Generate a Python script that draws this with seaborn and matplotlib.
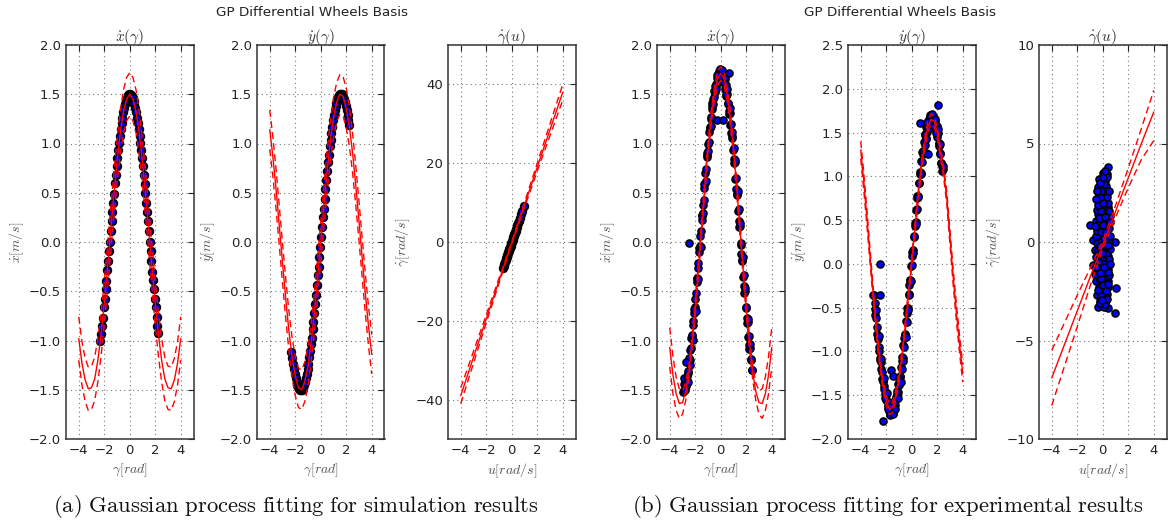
import matplotlib
matplotlib.use("Agg")
import matplotlib.pyplot as plt
import seaborn as sns
import numpy as np
import pandas as pd

# ---------------- data ----------------
grid = [-4.0, -3.75, -3.5, -3.25, -3.0, -2.75, -2.5, -2.25, -2.0, -1.75, -1.5, -1.25, -1.0, -0.75, -0.5, -0.25,
        0.0, 0.25, 0.5, 0.75, 1.0, 1.25, 1.5, 1.75, 2.0, 2.25, 2.5, 2.75, 3.0, 3.25, 3.5, 3.75, 4.0]

# simulation: GP means
A1_mean = [-0.98, -1.23, -1.40, -1.49, -1.48, -1.39, -1.20, -0.94, -0.62, -0.27, 0.11, 0.47, 0.81, 1.10, 1.32, 1.45,
           1.50, 1.45, 1.32, 1.10, 0.81, 0.47, 0.11, -0.27, -0.62, -0.94, -1.20, -1.39, -1.48, -1.49, -1.40, -1.23, -0.98]
A1_band = 0.22
A2_mean = [1.14, 0.86, 0.53, 0.16, -0.21, -0.57, -0.90, -1.17, -1.36, -1.48, -1.50, -1.42, -1.26, -1.02, -0.72, -0.37,
           0.0, 0.37, 0.72, 1.02, 1.26, 1.42, 1.50, 1.48, 1.36, 1.17, 0.90, 0.57, 0.21, -0.16, -0.53, -0.86, -1.14]
A2_band = 0.20
A3_u = [-4.0, -2.0, 0.0, 2.0, 4.0]
A3_mean = [-39.0, -19.5, -0.2, 19.0, 38.0]
A3_upper = [-37.0, -18.5, 0.1, 20.0, 40.0]
A3_lower = [-41.0, -20.5, -0.5, 18.0, 36.0]

# simulation samples
gamma_sim = [-2.30, -2.24, -2.17, -2.11, -2.03, -1.97, -1.90, -1.84, -1.76, -1.70, -1.63, -1.57, -1.50, -1.43,
             -1.37, -1.30, -1.24, -1.16, -1.10, -1.03, -0.97, -0.90, -0.83, -0.77, -0.70, -0.63, -0.57, -0.50,
             -0.43, -0.37, -0.30, -0.23, -0.17, -0.10, -0.03, 0.03, 0.10, 0.17, 0.23, 0.30, 0.37, 0.43, 0.50,
             0.57, 0.63, 0.70, 0.77, 0.83, 0.90, 0.97, 1.03, 1.10, 1.17, 1.23, 1.30, 1.37, 1.43, 1.50, 1.57,
             1.63, 1.70, 1.77, 1.83, 1.90, 1.97, 2.03, 2.10, 2.17, 2.23]
xdot_sim = [-1.00, -0.93, -0.85, -0.77, -0.66, -0.58, -0.48, -0.40, -0.28, -0.19, -0.09, 0.00, 0.11, 0.21,
            0.30, 0.40, 0.49, 0.60, 0.68, 0.77, 0.85, 0.93, 1.01, 1.08, 1.15, 1.21, 1.26, 1.32,
            1.36, 1.40, 1.43, 1.46, 1.48, 1.49, 1.50, 1.50, 1.49, 1.48, 1.46, 1.43, 1.40, 1.36, 1.32,
            1.26, 1.21, 1.15, 1.08, 1.01, 0.93, 0.85, 0.77, 0.68, 0.59, 0.50, 0.40, 0.30, 0.21, 0.11, 0.00,
            -0.09, -0.19, -0.30, -0.39, -0.48, -0.58, -0.66, -0.76, -0.85, -0.92]
ydot_sim = [-1.12, -1.18, -1.24, -1.29, -1.34, -1.38, -1.42, -1.45, -1.47, -1.49, -1.50, -1.50, -1.50, -1.49,
            -1.47, -1.45, -1.42, -1.38, -1.34, -1.29, -1.24, -1.17, -1.11, -1.04, -0.97, -0.88, -0.81, -0.72,
            -0.63, -0.54, -0.44, -0.34, -0.25, -0.15, -0.05, 0.05, 0.15, 0.25, 0.34, 0.44, 0.54, 0.63, 0.72,
            0.81, 0.88, 0.97, 1.04, 1.11, 1.17, 1.24, 1.29, 1.34, 1.38, 1.41, 1.45, 1.47, 1.49, 1.50, 1.50,
            1.50, 1.49, 1.47, 1.45, 1.42, 1.38, 1.34, 1.29, 1.24, 1.19]
u_sim = [-0.68, -0.62, -0.57, -0.52, -0.47, -0.42, -0.38, -0.34, -0.30, -0.26, -0.22, -0.18, -0.15, -0.12,
         -0.09, -0.06, -0.03, 0.00, 0.03, 0.06, 0.09, 0.12, 0.15, 0.18, 0.21, 0.24, 0.27, 0.30, 0.34, 0.38,
         0.43, 0.48, 0.55, 0.62, 0.72, 0.80, 0.93]
gdot_sim = [-6.7, -6.1, -5.6, -5.1, -4.6, -4.1, -3.7, -3.3, -2.9, -2.5, -2.2, -1.8, -1.5, -1.2,
            -0.9, -0.6, -0.3, 0.0, 0.3, 0.6, 0.9, 1.2, 1.5, 1.8, 2.1, 2.4, 2.6, 2.9, 3.3, 3.7,
            4.2, 4.7, 5.4, 6.1, 7.1, 7.8, 9.1]

# experiment: GP means
B1_mean = [-1.07, -1.35, -1.54, -1.64, -1.63, -1.52, -1.32, -1.02, -0.67, -0.27, 0.15, 0.56, 0.94, 1.26, 1.505, 1.66,
           1.71, 1.66, 1.505, 1.26, 0.94, 0.56, 0.15, -0.27, -0.67, -1.02, -1.32, -1.52, -1.63, -1.64, -1.54, -1.35, -1.07]
B1_band = [0.20, 0.19, 0.17, 0.15, 0.12, 0.09, 0.07, 0.07, 0.07, 0.07, 0.07, 0.07, 0.07, 0.07, 0.07, 0.07,
           0.07, 0.07, 0.07, 0.07, 0.07, 0.07, 0.07, 0.07, 0.07, 0.07, 0.07, 0.09, 0.12, 0.15, 0.17, 0.19, 0.20]
B2_mean = [1.30, 0.92, 0.50, 0.05, -0.38, -0.78, -1.12, -1.38, -1.56, -1.66, -1.64, -1.50, -1.30, -1.02, -0.70, -0.34,
           0.03, 0.40, 0.77, 1.10, 1.36, 1.56, 1.65, 1.63, 1.50, 1.27, 1.05, 0.75, 0.30, -0.15, -0.55, -0.92, -1.25]
B2_band = [0.10, 0.10, 0.09, 0.08, 0.07, 0.06, 0.06, 0.06, 0.06, 0.06, 0.06, 0.06, 0.06, 0.06, 0.06, 0.06,
           0.06, 0.06, 0.06, 0.06, 0.06, 0.06, 0.06, 0.06, 0.06, 0.06, 0.06, 0.07, 0.08, 0.09, 0.10, 0.10, 0.10]
B3_u = [-4.0, -3.0, -2.0, -1.0, 0.0, 1.0, 2.0, 3.0, 4.0]
B3_mean = [-6.9, -5.2, -3.5, -1.8, -0.15, 1.55, 3.25, 4.95, 6.6]
B3_upper = [-5.5, -4.1, -2.7, -1.35, 0.05, 1.85, 3.75, 5.7, 7.7]
B3_lower = [-8.3, -6.3, -4.3, -2.25, -0.35, 1.25, 2.75, 4.15, 5.15]

# experiment samples (run 1)
gamma_exp = [-2.95, -2.90, -2.85, -2.80, -2.75, -2.70, -2.65, -2.60, -2.55, -2.50, -2.45, -2.40, -2.35, -2.30,
             -2.25, -2.20, -2.15, -2.10, -2.05, -2.00, -1.95, -1.90, -1.85, -1.80, -1.75, -1.70, -1.65, -1.60,
             -1.55, -1.50, -1.45, -1.40, -1.35, -1.30, -1.25, -1.20, -1.15, -1.10, -1.05, -1.00, -0.95, -0.90,
             -0.85, -0.80, -0.75, -0.70, -0.65, -0.60, -0.55, -0.50, -0.45, -0.40, -0.35, -0.30, -0.25, -0.20,
             -0.15, -0.10, -0.05, 0.00, 0.05, 0.10, 0.15, 0.20, 0.25, 0.30, 0.35, 0.40, 0.45, 0.50, 0.55, 0.60,
             0.65, 0.70, 0.75, 0.80, 0.85, 0.90, 0.95, 1.00, 1.05, 1.10, 1.15, 1.20, 1.25, 1.30, 1.35, 1.40,
             1.45, 1.50, 1.55, 1.60, 1.65, 1.70, 1.75, 1.80, 1.85, 1.90, 1.95, 2.00, 2.05, 2.10, 2.15, 2.20,
             2.25, 2.30, 2.35, 2.40, 2.45]
xdot_exp = [-1.52, -1.44, -1.50, -1.41, -1.46, -1.38, -1.40, -1.33, -1.31, -1.22, -1.20, -1.10, -1.08, -0.97,
            -0.95, -0.84, -0.80, -0.72, -0.66, -0.58, -0.52, -0.41, -0.37, -0.26, -0.21, -0.10, -0.04, 0.06,
            0.11, 0.22, 0.27, 0.38, 0.43, 0.55, 0.60, 0.70, 0.74, 0.86, 0.88, 0.99, 1.02, 1.12,
            1.16, 1.25, 1.27, 1.35, 1.38, 1.45, 1.47, 1.53, 1.52, 1.60, 1.58, 1.66, 1.62, 1.71,
            1.65, 1.74, 1.68, 1.75, 1.69, 1.73, 1.64, 1.70, 1.61, 1.65, 1.55, 1.59, 1.48, 1.50, 1.40, 1.41,
            1.30, 1.31, 1.19, 1.20, 1.06, 1.08, 0.93, 0.95, 0.80, 0.81, 0.64, 0.65, 0.48, 0.49, 0.31, 0.33,
            0.15, 0.16, -0.03, -0.01, -0.19, -0.18, -0.36, -0.34, -0.52, -0.50, -0.67, -0.66, -0.82, -0.81, -0.96, -0.95,
            -1.09, -1.08, -1.20, -1.19, -1.30]
ydot_exp = [-0.36, -0.45, -0.58, -0.62, -0.72, -0.80, -0.86, -0.95, -1.00, -1.08, -1.12, -1.20, -1.24, -1.31,
            -1.34, -1.40, -1.43, -1.49, -1.50, -1.56, -1.57, -1.62, -1.63, -1.68, -1.66, -1.71, -1.67, -1.72,
            -1.65, -1.70, -1.62, -1.66, -1.57, -1.61, -1.52, -1.54, -1.45, -1.46, -1.37, -1.38, -1.28, -1.29,
            -1.18, -1.20, -1.06, -1.08, -0.93, -0.95, -0.80, -0.81, -0.65, -0.66, -0.50, -0.50, -0.34, -0.35,
            -0.18, -0.18, -0.02, -0.01, 0.14, 0.16, 0.31, 0.32, 0.47, 0.48, 0.62, 0.63, 0.78, 0.78, 0.92, 0.92,
            1.05, 1.04, 1.18, 1.16, 1.29, 1.27, 1.39, 1.36, 1.48, 1.44, 1.56, 1.51, 1.62, 1.56, 1.66, 1.59,
            1.68, 1.61, 1.69, 1.62, 1.69, 1.60, 1.66, 1.57, 1.63, 1.52, 1.57, 1.45, 1.49, 1.37, 1.38, 1.27,
            1.26, 1.15, 1.12, 1.06, 1.08]
# experiment samples (run 2)
gamma_exp2 = [-2.88, -2.78, -2.68, -2.58, -2.48, -2.38, -2.28, -2.18, -2.08, -1.98, -1.88, -1.78, -1.68, -1.58,
              -1.48, -1.38, -1.28, -1.18, -1.08, -0.98, -0.88, -0.78, -0.68, -0.58, -0.48, -0.38, -0.28, -0.18,
              -0.08, 0.02, 0.12, 0.22, 0.32, 0.42, 0.52, 0.62, 0.72, 0.82, 0.92, 1.02, 1.12, 1.22, 1.32, 1.42,
              1.52, 1.62, 1.72, 1.82, 1.92, 2.02, 2.12, 2.22, 2.32, 2.42]
xdot_exp2 = [-1.38, -1.50, -1.36, -1.42, -1.18, -1.25, -0.94, -0.99, -0.68, -0.70, -0.38, -0.38, -0.06, -0.05,
             0.26, 0.29, 0.59, 0.62, 0.90, 0.92, 1.17, 1.18, 1.41, 1.40, 1.58, 1.55, 1.70, 1.63,
             1.76, 1.66, 1.75, 1.62, 1.68, 1.50, 1.55, 1.33, 1.36, 1.11, 1.12, 0.84, 0.83, 0.54, 0.52, 0.21,
             0.19, -0.12, -0.15, -0.45, -0.47, -0.77, -0.78, -1.05, -1.04, -1.30]
ydot_exp2 = [-0.52, -0.53, -0.84, -0.82, -1.10, -1.09, -1.34, -1.30, -1.53, -1.47, -1.66, -1.58, -1.73, -1.61,
             -1.72, -1.58, -1.66, -1.49, -1.53, -1.32, -1.35, -1.11, -1.11, -0.85, -0.84, -0.56, -0.53, -0.24,
             -0.20, 0.09, 0.13, 0.43, 0.45, 0.75, 0.76, 1.03, 1.03, 1.28, 1.26, 1.47, 1.43, 1.62, 1.55, 1.70,
             1.60, 1.71, 1.58, 1.66, 1.50, 1.54, 1.35, 1.37, 1.15, 1.12]
# a few scattered outliers
B1_out_g = [-2.48, -0.28, 0.20, 0.67, -2.70]
B1_out_v = [-0.01, 1.24, 1.24, 1.72, -1.22]
B2_out_g = [-2.52, -3.05, -2.52, -2.27, -1.61, -1.45, 0.65, 2.03, 1.12, 1.30]
B2_out_v = [0.00, -0.35, -0.35, -1.80, -1.21, -1.28, 1.61, 1.82, 1.27, 1.25]

u_exp = [0.94, -0.37, 0.41, 0.12, -0.20, 0.25, 0.05, -0.42, 0.00, 0.35, -0.15, 1.07, -0.30, 0.20, -0.05, 0.45,
         -0.50, -0.18, 0.10, 0.38, -0.35, 0.00, 0.25, -0.60, 0.50, -0.45, -0.12, 0.15, 0.42, -0.76, -0.28, 0.30,
         0.05, -0.50, -0.20, 0.10, 0.40, -0.62, -0.35, 0.00, 0.28, 0.55, -0.78, 0.94, -0.45, -0.10, 0.20, 0.48,
         -0.30, 0.05, 0.35, -0.55, -0.40, -0.10, 0.20, 0.50, -1.00, -0.50, -0.20, 0.10, 0.38, -0.35, 0.00, 0.30,
         0.55, -0.49, -0.25, 0.10, 0.40, -0.05, -0.40, -0.10, 0.20, 0.45, -0.30, 0.00, 0.30, -0.35, -0.05, 0.25,
         -0.10, 0.20, -0.30, 0.05, 0.35, 0.41, -0.10, 0.15, -0.22, 0.32,
         -0.25, 0.15, 0.30, -0.35, 0.05, 0.28, -0.10, 0.18, -0.25, 0.45, -0.40, 0.10, 0.25, -0.30, -0.05, 0.40,
         -0.20, 0.10, -0.45, -0.15, 0.25, 0.45, 0.00, -0.30, 0.20, -0.10, 0.30, 0.50, -0.40, 0.00, 0.30, -0.20,
         0.15, -0.15, 0.10, -0.20, 0.30, 0.00, 0.15, -0.05, 0.40, -0.55, 0.50, -0.60, 0.55, 0.60, 0.55, -0.55,
         0.50, -0.45]
gdot_exp = [-3.60, -3.28, -3.36, -3.30, -3.00, -2.95, -3.05, -2.70, -2.60, -2.65, -2.70, -2.35, -2.30, -2.35, -2.40, -2.30,
            -2.00, -1.95, -2.05, -1.98, -1.70, -1.65, -1.72, -1.60, -1.70, -1.35, -1.38, -1.30, -1.35, -1.17, -1.05, -1.10,
            -1.00, -0.75, -0.70, -0.78, -0.72, -0.40, -0.45, -0.38, -0.42, -0.35, 0.10, 0.00, -0.05, 0.02, -0.03, 0.05,
            0.35, 0.30, 0.38, 0.30, 0.70, 0.72, 0.65, 0.70, 0.86, 1.05, 1.00, 1.08, 1.02, 1.40, 1.35, 1.42,
            1.30, 1.62, 1.75, 1.72, 1.78, 1.85, 2.10, 2.05, 2.12, 2.00, 2.45, 2.40, 2.50, 2.80, 2.75, 2.85,
            3.15, 3.10, 3.20, 3.50, 3.45, 3.80, 0.55, -0.55, 2.25, -2.10,
            -3.10, -3.15, -2.90, -2.45, -2.20, -2.50, -1.85, -1.50, -1.55, -1.50, -1.00, -1.25, -0.60, -0.60, -0.55, -0.15,
            -0.20, 0.15, 0.55, 0.50, 0.50, 0.95, 0.85, 1.20, 1.25, 1.55, 1.60, 1.55, 1.90, 2.00, 2.30, 2.30,
            2.65, 2.60, 2.95, 3.00, 3.30, 3.30, 3.60, -2.95, -2.15, -1.25, -0.85, 0.80, 0.30, 1.00, -1.10, 2.20,
            2.60, 2.60]

titles = [r"$\dot{x}(\gamma)$", r"$\dot{y}(\gamma)$", r"$\dot{\gamma}(u)$"]
ylabels = [r"$\dot{x}[m/s]$", r"$\dot{y}[m/s]$", r"$\dot{\gamma}[rad/s]$"]
xlabels = [r"$\gamma[rad]$", r"$\gamma[rad]$", r"$u[rad/s]$"]
suptitle = "GP Differential Wheels Basis"
captions = [r"$\mathrm{(a)\ Gaussian\ process\ fitting\ for\ simulation\ results}$",
            r"$\mathrm{(b)\ Gaussian\ process\ fitting\ for\ experimental\ results}$"]

# ---------------- style ----------------
sns.set_style("white")
plt.rcParams.update({
    "font.family": ["DejaVu Sans"],
    "mathtext.fontset": "cm",
    "axes.edgecolor": "#333333",
    "axes.linewidth": 1.1,
    "xtick.direction": "in",
    "ytick.direction": "in",
    "xtick.top": True,
    "ytick.right": True,
    "xtick.major.size": 4,
    "ytick.major.size": 4,
    "xtick.color": "#222222",
    "ytick.color": "#222222",
    "xtick.labelsize": 9.5,
    "ytick.labelsize": 9.5,
})

W, H = 1168, 522
fig = plt.figure(figsize=(W / 100, H / 100), dpi=100)
lefts = [66, 257, 448, 657, 848, 1039]
top, bottom, aw = 45, 439, 127.5
axes = [fig.add_axes([l / W, 1 - bottom / H, aw / W, (bottom - top) / H]) for l in lefts]

DASH = (5, 3)


def draw_panel(ax, samples, lx, lm, lu, ll, ylim, yticks, k, s=26, ew=1.1):
    for sx, sy in samples:
        sns.scatterplot(x=sx, y=sy, ax=ax, color="#0000ff", edgecolor="black", linewidth=ew, s=s, zorder=2,
                        legend=False)
    sns.lineplot(x=lx, y=lm, ax=ax, color="red", lw=1.0, sort=False, estimator=None, zorder=3)
    for band in (lu, ll):
        sns.lineplot(x=lx, y=band, ax=ax, color="red", lw=1.0, sort=False, estimator=None, zorder=3)
        ax.lines[-1].set_dashes(DASH)
    ax.set_xlim(-5, 5)
    ax.set_ylim(*ylim)
    ax.set_xticks([-4, -2, 0, 2, 4])
    ax.set_yticks(yticks)
    if max(abs(t) for t in yticks) <= 2.5:
        ax.set_yticklabels([f"{t:.1f}".replace("-", "\u2212") for t in yticks])
    else:
        ax.set_yticklabels([f"{int(t)}".replace("-", "\u2212") for t in yticks])
    ax.set_xticklabels([f"{t}".replace("-", "\u2212") for t in [-4, -2, 0, 2, 4]])
    ax.grid(True, linestyle=(0, (1, 3)), color="#777777", linewidth=0.8)
    ax.set_axisbelow(True)
    ax.set_title(titles[k], fontsize=11, color="#333333", pad=3)
    ax.set_ylabel(ylabels[k], fontsize=10, color="#555555", labelpad=2)
    ax.set_xlabel(xlabels[k], fontsize=10, color="#555555", labelpad=3)
    for sp in ax.spines.values():
        sp.set_visible(True)


g = np.array(grid)
y2 = [-2.0, -1.5, -1.0, -0.5, 0.0, 0.5, 1.0, 1.5, 2.0]
draw_panel(axes[0], [(gamma_sim, xdot_sim)], g, A1_mean, np.array(A1_mean) + A1_band,
           np.array(A1_mean) - A1_band, (-2, 2), y2, 0, s=30, ew=1.3)
draw_panel(axes[1], [(gamma_sim, ydot_sim)], g, A2_mean, np.array(A2_mean) + A2_band,
           np.array(A2_mean) - A2_band, (-2, 2), y2, 1, s=30, ew=1.3)
draw_panel(axes[2], [(u_sim, gdot_sim)], A3_u, A3_mean, A3_upper, A3_lower, (-50, 50), [-40, -20, 0, 20, 40], 2,
           s=30, ew=1.3)
draw_panel(axes[3], [(gamma_exp, xdot_exp), (gamma_exp2, xdot_exp2), (B1_out_g, B1_out_v)], g, B1_mean,
           np.array(B1_mean) + np.array(B1_band), np.array(B1_mean) - np.array(B1_band), (-2, 2), y2, 0)
draw_panel(axes[4], [(gamma_exp, ydot_exp), (gamma_exp2, ydot_exp2), (B2_out_g, B2_out_v)], g, B2_mean,
           np.array(B2_mean) + np.array(B2_band), np.array(B2_mean) - np.array(B2_band), (-2, 2.5), y2 + [2.5], 1)
draw_panel(axes[5], [(u_exp, gdot_exp)], B3_u, B3_mean, B3_upper, B3_lower, (-10, 10), [-10, -5, 0, 5, 10], 2)

fig.text(312 / W, 1 - 12 / H, suptitle, ha="center", va="center", fontsize=9.7, color="#222222")
fig.text(900 / W, 1 - 12 / H, suptitle, ha="center", va="center", fontsize=9.7, color="#222222")
fig.text(296 / W, 1 - 507 / H, captions[0], ha="center", va="center", fontsize=16.3, color="#111111")
fig.text(888 / W, 1 - 507 / H, captions[1], ha="center", va="center", fontsize=16.3, color="#111111")

fig.savefig("out.png", dpi=100)
